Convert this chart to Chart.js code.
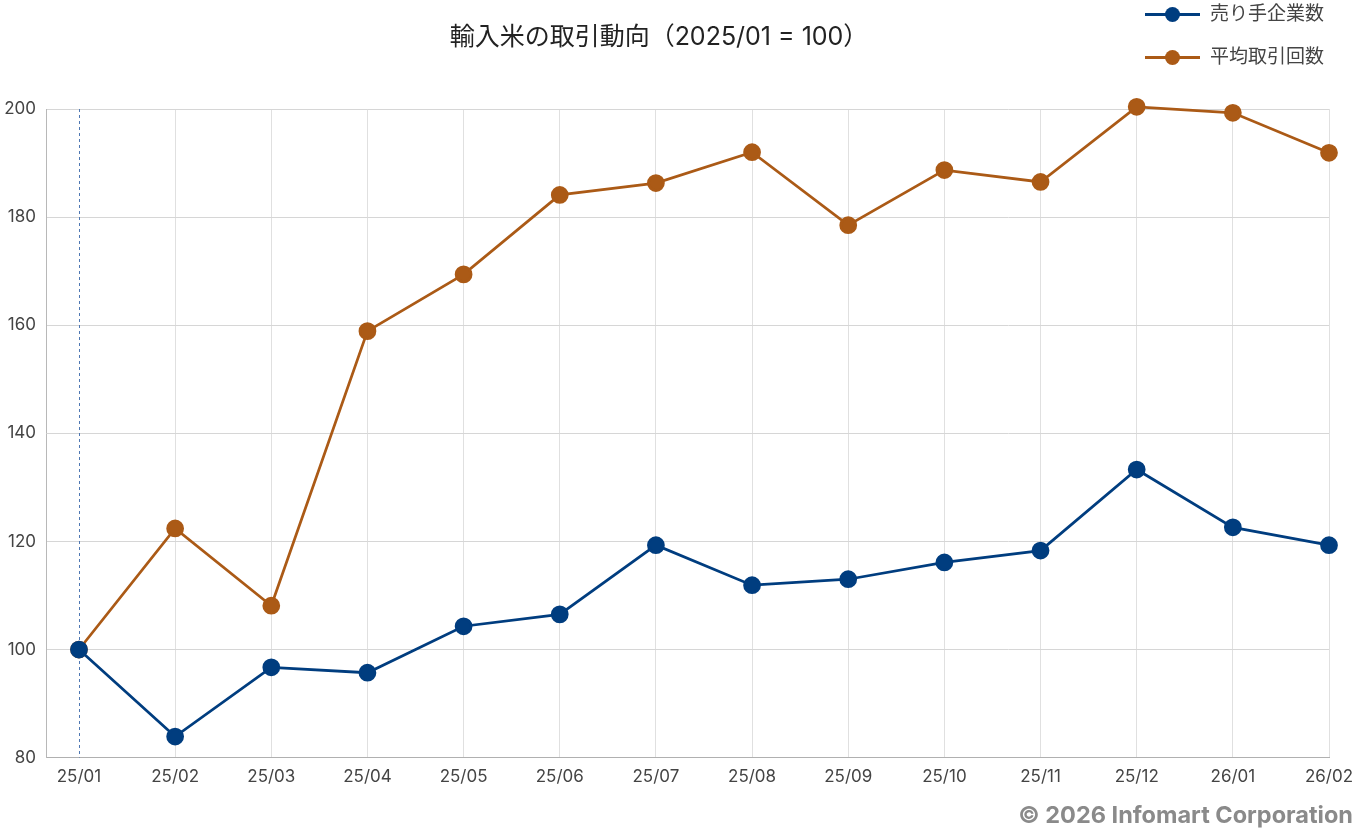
<!DOCTYPE html>
<html lang="ja">
<head>
<meta charset="utf-8">
<script src="https://cdn.jsdelivr.net/npm/chart.js@4.4.1/dist/chart.umd.min.js"></script>
<style>
  html, body { margin: 0; padding: 0; background: #ffffff; }
  body { font-family: Inter, "Noto Sans CJK JP", sans-serif; }
  #wrap { position: relative; width: 1358px; height: 829px; }
  #chart-title {
    position: absolute; left: 0; top: 21px; width: 1318px;
    text-align: center; font-size: 25px; color: #222222; line-height: 30px;
  }
  #legend { position: absolute; left: 1145px; top: 0px; }
  .legend-item { position: relative; height: 43px; width: 210px; font-size: 19px; color: #444444; }
  .legend-item .line { position: absolute; left: 0; top: 13px; width: 55px; height: 3px; }
  .legend-item .dot { position: absolute; left: 20px; top: 7px; width: 15px; height: 15px; border-radius: 50%; }
  .legend-item .label { position: absolute; left: 65px; top: 1px; line-height: 26px; }
  #copyright {
    position: absolute; right: 5px; top: 800px; line-height: 30px;
    font-size: 23.5px; font-weight: bold; color: #8a8a8a;
  }
</style>
</head>
<body>
<div id="wrap">
  <canvas id="torihiki-doukou"></canvas>
  <div id="chart-title">輸入米の取引動向（2025/01 = 100）</div>
  <div id="legend"></div>
  <div id="copyright">© 2026 Infomart Corporation</div>
</div>
<script>
const meses = ["25/01", "25/02", "25/03", "25/04", "25/05", "25/06", "25/07",
  "25/08", "25/09", "25/10", "25/11", "25/12", "26/01", "26/02"];
const urite_kigyou = [100, 83.9, 96.7, 95.7, 104.3, 106.5, 119.3, 111.9, 113.0, 116.1, 118.3, 133.3, 122.6, 119.3];
const heikin_torihiki = [100, 122.4, 108.1, 158.9, 169.4, 184.1, 186.3, 192.0, 178.5, 188.7, 186.5, 200.4, 199.3, 191.9];
const y_ticks = [80, 100, 120, 140, 160, 180, 200];

const AZUL = "#003d7f";
const LARANJA = "#ab5a16";

const canvas = document.getElementById("torihiki-doukou");

const dataset_urite = [];
const dataset_heikin = [];
meses.forEach((m, i) => {
  dataset_urite.push({ x: i, y: urite_kigyou[i] });
  dataset_heikin.push({ x: i, y: heikin_torihiki[i] });
});

// linha tracejada no mes base (2025/01)
const linhaBase = {
  id: "linhaBase",
  beforeDatasetsDraw(chart) {
    const ctx = chart.ctx;
    const xs = chart.scales.x;
    const area = chart.chartArea;
    const px = Math.round(xs.getPixelForValue(0)) + 0.5;
    ctx.save();
    ctx.strokeStyle = "#4f78b3";
    ctx.lineWidth = 1;
    ctx.setLineDash([3, 3]);
    ctx.beginPath();
    ctx.moveTo(px, area.top);
    ctx.lineTo(px, area.bottom);
    ctx.stroke();
    ctx.restore();
  },
};

const chart = new Chart(canvas, {
  type: "line",
  data: {
    datasets: [
      {
        label: "売り手企業数",
        data: dataset_urite,
        borderColor: AZUL,
        backgroundColor: AZUL,
        borderWidth: 2.75,
        pointRadius: 7.5,
        pointHoverRadius: 7.5,
        clip: false,
      },
      {
        label: "平均取引回数",
        data: dataset_heikin,
        borderColor: LARANJA,
        backgroundColor: LARANJA,
        borderWidth: 2.75,
        pointRadius: 7.5,
        pointHoverRadius: 7.5,
        clip: false,
      },
    ],
  },
  options: {
    responsive: true,
    maintainAspectRatio: false,
    animation: false,
    layout: {
      padding: { top: 109, right: 0, left: 2, bottom: 33 },
    },
    scales: {
      x: {
        type: "linear",
        min: -0.343,
        max: meses.length - 1,
        afterBuildTicks: (scale) => {
          scale.ticks = meses.map((m, i) => ({ value: i }));
        },
        afterFit: (scale) => {
          scale.paddingRight = 29;
          scale.paddingLeft = 0;
        },
        grid: {
          drawTicks: false,
          color: (ctx) => (ctx.tick && ctx.tick.value === 0 ? "rgba(0,0,0,0)" : "#e0e0e0"),
        },
        border: { color: "#b0b0b0", width: 1 },
        ticks: {
          padding: 9,
          color: "#444444",
          font: { family: "Inter, 'Noto Sans CJK JP', sans-serif", size: 17 },
          callback: (val) => meses[val] || "",
        },
      },
      y: {
        min: 80,
        max: 200,
        afterBuildTicks: (scale) => {
          scale.ticks = y_ticks.map((v) => ({ value: v }));
        },
        afterFit: (scale) => {
          scale.width = 44;
        },
        grid: { drawTicks: false, color: "#d6d6d6" },
        border: { color: "#b8b8b8", width: 1 },
        ticks: {
          padding: 10,
          color: "#444444",
          font: { family: "Inter, 'Noto Sans CJK JP', sans-serif", size: 17 },
        },
      },
    },
    plugins: {
      legend: { display: false },
      tooltip: { enabled: false },
      title: { display: false },
    },
  },
  plugins: [linhaBase],
});

// legenda
const legenda = document.getElementById("legend");
chart.data.datasets.forEach((ds) => {
  const item = document.createElement("div");
  item.className = "legend-item";
  item.innerHTML =
    '<div class="line" style="background:' + ds.borderColor + '"></div>' +
    '<div class="dot" style="background:' + ds.borderColor + '"></div>' +
    '<div class="label"></div>';
  item.querySelector(".label").textContent = ds.label;
  legenda.appendChild(item);
});
</script>
</body>
</html>
